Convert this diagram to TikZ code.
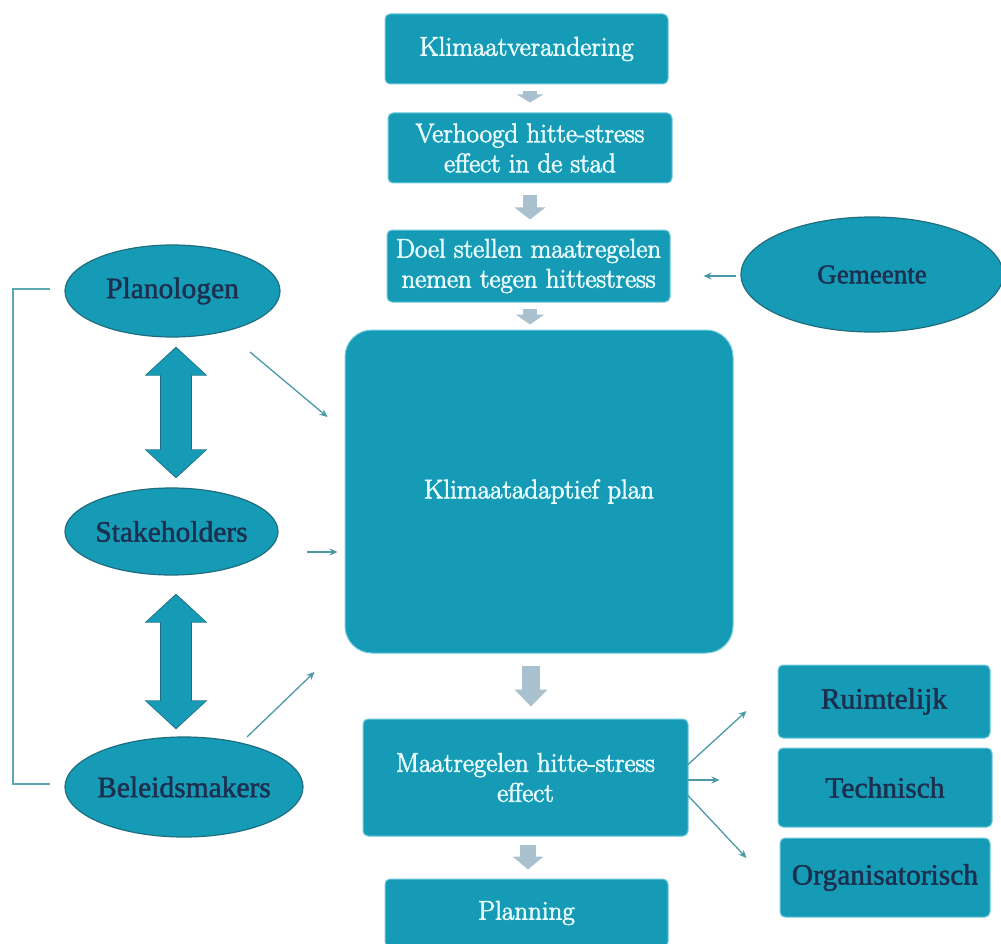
\documentclass[tikz,border=0pt]{standalone}
\usepackage{fontspec}
\newfontfamily\elfont{Liberation Serif}
\usetikzlibrary{arrows.meta,calc,shapes.geometric}
\definecolor{tealfill}{HTML}{169BB6}
\definecolor{boxedge}{HTML}{6FCADB}
\definecolor{boxtext}{HTML}{E8FBFF}
\definecolor{elledge}{HTML}{1E6E80}
\definecolor{elltext}{HTML}{1B2F4E}
\definecolor{greyc}{HTML}{A9C1CE}
\definecolor{thinc}{HTML}{4A9AA8}
\definecolor{brackc}{HTML}{5EA8B3}
\newcommand{\heavytext}[1]{\special{pdf:literal direct 2 Tr 0.7 w}#1\special{pdf:literal direct 0 Tr}}
\newcommand{\semitext}[1]{\special{pdf:literal direct 2 Tr 0.45 w}#1\special{pdf:literal direct 0 Tr}}
\begin{document}
\begin{tikzpicture}[x=1pt,y=-1pt,
  box/.style={rectangle, rounded corners=5pt, fill=tealfill, draw=boxedge, line width=1pt,
    text=boxtext, align=center, inner sep=0pt, font=\fontsize{27}{30}\selectfont},
  rbox/.style={rectangle, rounded corners=5pt, fill=tealfill, draw=boxedge, line width=1pt,
    text=elltext, inner sep=0pt, font=\elfont\fontsize{29.5}{33}\selectfont},
  ell/.style={ellipse, fill=tealfill, draw=elledge, line width=1.2pt, text=elltext,
    inner sep=0pt, font=\elfont\fontsize{29.5}{33}\selectfont},
  garrow/.style n args={3}{draw=greyc, line width=#1pt, -{Triangle[length=#2pt, width=#3pt]}},
  thinarrow/.style={draw=thinc, line width=1.3pt, -{Stealth[length=8pt, width=7pt]}},
  dblout/.style={draw=elledge, line width=32pt, {Triangle[length=29pt, width=61pt]}-{Triangle[length=29pt, width=61pt]}},
  dblin/.style={draw=tealfill, line width=30pt, {Triangle[length=27pt, width=58pt]}-{Triangle[length=27pt, width=58pt]}},
  bracket/.style={draw=brackc, line width=1.3pt}
]
\useasboundingbox (0,0) rectangle (1001,944);
\fill[white] (0,0) rectangle (1001,944);

% central column
\node[box, minimum width=283pt, minimum height=70pt] (k1) at (526.5,49) {\heavytext{Klimaatverandering}};
\node[box, minimum width=284pt, minimum height=70pt] (k2) at (530,148) {\heavytext{Verhoogd hitte-stress}\\\heavytext{effect in de stad}};
\node[box, minimum width=283pt, minimum height=72pt] (k3) at (528.5,266) {\heavytext{Doel stellen maatregelen}\\\heavytext{nemen tegen hittestress}};
\node[box, rounded corners=27pt, minimum width=388pt, minimum height=323pt] (plan) at (539,491.5) {\heavytext{Klimaatadaptief plan}};
\node[box, minimum width=325pt, minimum height=117pt] (maat) at (525.5,777.5) {\heavytext{Maatregelen hitte-stress}\\\heavytext{effect}};
\node[box, minimum width=283pt, minimum height=68pt] (planning) at (526.5,913) {\heavytext{Planning}};

% right boxes
\node[rbox, minimum width=212pt, minimum height=73pt] (r1) at (884,701.5) {\semitext{Ruimtelijk}};
\node[rbox, minimum width=214pt, minimum height=79pt] (r2) at (885,787.5) {\semitext{Technisch}};
\node[rbox, minimum width=210pt, minimum height=79pt] (r3) at (885,877.5) {\semitext{Organisatorisch}};

% ellipses
\node[ell, minimum width=215pt, minimum height=92pt] (pl) at (172.5,291) {\makebox[0pt]{\semitext{Planologen}}};
\node[ell, minimum width=213pt, minimum height=87pt] (st) at (171.5,531.5) {\makebox[0pt]{\semitext{Stakeholders}}};
\node[ell, minimum width=238pt, minimum height=100pt] (bm) at (184,787) {\makebox[0pt]{\semitext{Beleidsmakers}}};
\node[ell, minimum width=262pt, minimum height=115pt, font=\elfont\fontsize{27}{31}\selectfont] (gm) at (872,274.5) {\makebox[0pt]{\semitext{Gemeente}}};

% helper x positions
\coordinate (ax4) at (531,0);
\coordinate (ax5) at (528,0);
\coordinate (dx) at (176,0);

% grey block arrows
\draw[garrow={14}{8}{26}, shorten <=7pt, shorten >=10pt] (k1.south -| k2.north) -- (k2.north);
\draw[garrow={14}{12}{30}, shorten <=12pt, shorten >=10pt] (k2.south) -- (k2.south |- k3.north);
\draw[garrow={14}{10}{28}, shorten <=6pt, shorten >=5pt] (k3.south -| k2.south) -- (k2.south |- plan.north);
\draw[garrow={18}{17}{32}, shorten <=12pt, shorten >=12pt] (plan.south -| ax4) -- (ax4 |- maat.north);
\draw[garrow={16}{13}{30}, shorten <=8pt, shorten >=9pt] (maat.south -| ax5) -- (ax5 |- planning.north);

% double arrows
\draw[dblout, shorten <=9pt, shorten >=9pt] (pl.south -| dx) -- (dx |- st.north);
\draw[dblin, shorten <=10.4pt, shorten >=10.4pt] (pl.south -| dx) -- (dx |- st.north);
\draw[dblout, shorten <=18pt, shorten >=7pt] (st.south -| dx) -- (dx |- bm.north);
\draw[dblin, shorten <=19.4pt, shorten >=8.4pt] (st.south -| dx) -- (dx |- bm.north);

% thin arrows
\draw[thinarrow] ($(pl.center)+(77.5,61)$) -- ($(plan.west)+(-17,-74.5)$);
\draw[thinarrow] ($(st.center)+(135.5,20.5)$) -- ($(plan.west)+(-7,60.5)$);
\draw[thinarrow] ($(bm.center)+(63,-50)$) -- ($(plan.west)+(-30,180.5)$);
\draw[thinarrow] ($(gm.west)+(-4,1.5)$) -- ($(k3.east)+(33,10)$);
\draw[thinarrow] ($(maat.east)+(-1,-12.5)$) -- ($(r1.west)+(-31,9.5)$);
\draw[thinarrow] ($(maat.east)+(-1,2.5)$) -- ($(r2.west)+(-58,-7.5)$);
\draw[thinarrow] ($(maat.east)+(-1,17.5)$) -- ($(r3.west)+(-33,-19.5)$);

% bracket
\coordinate (bt) at (50,289);
\coordinate (bb) at (50,784);
\draw[bracket] (bt) -- ++(-37,0) |- (bb);
\end{tikzpicture}
\end{document}
